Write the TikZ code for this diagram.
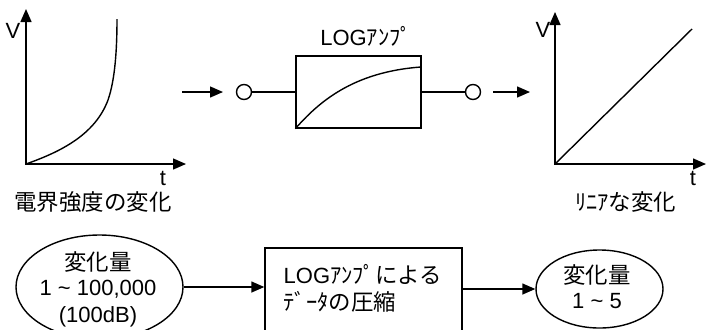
\documentclass[tikz,border=0pt]{standalone}
\usepackage{fontspec}
\setmainfont{Liberation Sans}
\newfontfamily\jp[Scale=1.02]{Noto Sans CJK JP}
\usetikzlibrary{arrows.meta,shapes.geometric}

\begin{document}
\begin{tikzpicture}[x=1bp,y=-1bp,line width=1.4bp,
  tip/.style={-{Triangle[length=13bp,width=11bp]}},
  axes/.style={{Triangle[length=13bp,width=11bp]}-{Triangle[length=13bp,width=11bp]}},
  lbl/.style={inner sep=0,anchor=base,font=\fontsize{22bp}{26bp}\selectfont},
  lblw/.style={lbl,anchor=base west},
  port/.style={circle,draw,fill=white,minimum size=15bp,inner sep=0},
  frame/.style={draw,inner sep=0},
  oval/.style={draw,ellipse,inner sep=0}]
\clip (0,0) rectangle (706,329);

% --- input signal: exponential rise ---
\coordinate (o1) at (26,164);
\coordinate (y1) at (26,9);
\coordinate (x1) at (186,164);
\draw[axes] (y1) |- (x1);
\draw (o1) .. controls (60,152) and (95,135) .. (108,100)
           .. controls (115,80) and (117,50) .. (117,19);
\node[lbl] (v1) at (13,38) {V};
\node[lbl] (t1) at (163,185) {t};
\node[lbl] (cap1) at (93,210.5) {\jp 電界強度の変化};

% --- LOG amplifier block ---
\coordinate (a1s) at (182,92);
\coordinate (a1e) at (223,92);
\draw[tip] (a1s) -- (a1e);
\node[port] (p1) at (244,92) {};
\node[frame,minimum width=125bp,minimum height=72bp] (amp) at (358.5,92) {};
\node[port] (p2) at (473,92) {};
\draw (p1) -- (amp.west);
\draw (amp.east) -- (p2);
\draw (amp.south west) .. controls (318,103) and (352,72) .. (421,67);
\node[lbl] (ampname) at (366,45) {LOG{\jp ｱﾝﾌﾟ}};
\coordinate (a2s) at (493,92);
\coordinate (a2e) at (530,92);
\draw[tip] (a2s) -- (a2e);

% --- output signal: linear ---
\coordinate (o2) at (555,164);
\coordinate (y2) at (555,12);
\coordinate (x2) at (706,164);
\draw[axes] (y2) |- (x2);
\coordinate (lin) at (692,29);
\draw (o2) -- (lin);
\node[lbl] (v2) at (543,37) {V};
\node[lbl] (t2) at (693,185) {t};
\node[lbl] (cap2) at (625.5,210.5) {\jp ﾘﾆｱな変化};

% --- compression summary ---
\node[oval,minimum width=167bp,minimum height=104bp] (src) at (99.5,287) {};
\node[lbl] (src1) at (98,270.5) {\jp 変化量};
\node[lbl] (src2) at (98,295) {1 \textasciitilde{} 100,000};
\node[lbl] (src3) at (98,322) {(100dB)};

\node[frame,minimum width=197bp,minimum height=112bp] (comp) at (363.5,304) {};
\node[lblw] (comp1) at (283,283) {LOG{\jp ｱﾝﾌﾟによる}};
\node[lblw] (comp2) at (283,310.5) {\jp ﾃﾞｰﾀの圧縮};

\node[oval,minimum width=127bp,minimum height=78bp] (dst) at (599.5,289) {};
\node[lbl] (dst1) at (597,283.5) {\jp 変化量};
\node[lbl] (dst2) at (597,308) {1 \textasciitilde{} 5};

\draw[tip] (src.east) -- (src.east -| comp.west);
\draw[tip] (dst.west -| comp.east) -- (dst.west);
\end{tikzpicture}
\end{document}
